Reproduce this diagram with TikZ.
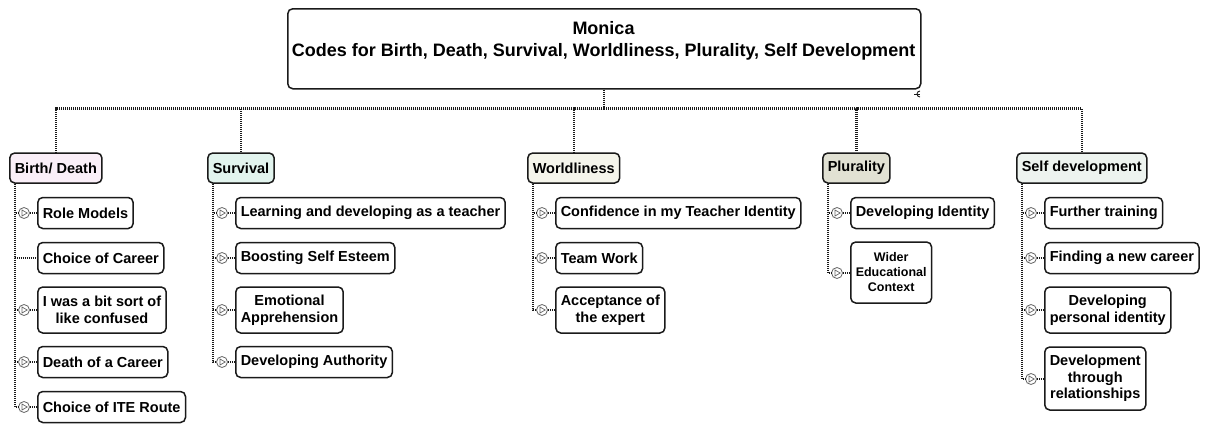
\documentclass[tikz,border=0pt]{standalone}
\usepackage{fontspec}
\setmainfont{Liberation Sans}
\definecolor{bdfill}{HTML}{FAEFF8}
\definecolor{svfill}{HTML}{E2F4EE}
\definecolor{wlfill}{HTML}{F5F5EB}
\definecolor{plfill}{HTML}{E1E1D3}
\definecolor{sdfill}{HTML}{EDF3EF}
\definecolor{ink}{HTML}{1A1A1A}
\begin{document}
\begin{tikzpicture}[x=1pt,y=-1pt,
  box/.style={draw=ink, line width=1.5pt, rounded corners=5pt, fill=white,
    inner xsep=5pt, inner ysep=0pt, align=center, text=black,
    font=\fontsize{14.5}{16.5}\selectfont\bfseries},
  leaf/.style={box, anchor=west, minimum height=31pt},
  catbox/.style={box, anchor=west, minimum height=30pt},
  conn/.style={draw=ink, line width=2.3pt, dash pattern=on 1.1pt off 0.9pt},
  icon/.style={circle, draw=black!60, line width=0.8pt, minimum size=11pt,
    inner sep=0pt, fill=white,
    path picture={\draw[black!60, line width=0.7pt]
      ([shift={(-2pt,-3pt)}]path picture bounding box.center) --
      ([shift={(3.2pt,0pt)}]path picture bounding box.center) --
      ([shift={(-2pt,3pt)}]path picture bounding box.center) -- cycle;}}
]
\fill[white] (0,0) rectangle (1207,423);
\useasboundingbox (0,0) rectangle (1207,423);

% root box with its two-line title
\node[box, anchor=north west, minimum width=633pt, minimum height=80pt] (top) at (287,8) {};
\node[align=center, font=\fontsize{18}{22}\selectfont\bfseries] (toptext) at (603.5,41)
  {Monica\\Codes for Birth, Death, Survival, Worldliness, Plurality, Self Development};
\draw[ink, line width=0.9pt] (920,91) arc[start angle=90, end angle=270, radius=3pt];
\draw[ink, line width=0.9pt] (914,94) -- (920,94);

% category boxes
\node[catbox, fill=bdfill] (bd) at (9,168) {Birth/ Death};
\node[catbox, fill=svfill] (sv) at (207,168) {Survival};
\node[catbox, fill=wlfill] (wl) at (527,168) {Worldliness};
\node[catbox, fill=plfill] (pl) at (822,168) {Plurality};
\node[catbox, fill=sdfill] (sd) at (1016,168) {Self development};

\path (top.south) ++(0,19) coordinate (hub);
\draw[conn] (top.south) -- (hub);
\foreach \c in {bd,sv,wl,pl,sd} \draw[conn] (hub) -| (\c.north);

% Birth / Death
\node[leaf] (bd1) at (37,213) {Role Models};
\node[leaf] (bd2) at (37,258) {Choice of Career};
\node[leaf, minimum height=46pt] (bd3) at (37,310) {I was a bit sort of\\like confused};
\node[leaf] (bd4) at (37,362) {Death of a Career};
\node[leaf] (bd5) at (37,407) {Choice of ITE Route};
\node[icon] (bd1i) at (24,213) {};
\node[icon] (bd3i) at (24,310) {};
\node[icon] (bd4i) at (24,362) {};
\node[icon] (bd5i) at (24,407) {};
\draw[conn] ([xshift=6pt]bd.south west) |- (bd2.west);
\foreach \k in {1,3,4,5} {
  \draw[conn] ([xshift=6pt]bd.south west) |- (bd\k i.west);
  \draw[conn] (bd\k i.east) -- (bd\k i.east -| bd\k.west);
}

% Survival
\node[leaf] (sv1) at (235,213) {Learning and developing as a teacher};
\node[leaf] (sv2) at (235,258) {Boosting Self Esteem};
\node[leaf, minimum height=46pt] (sv3) at (235,310) {Emotional\\Apprehension};
\node[leaf] (sv4) at (235,362) {Developing Authority};
\foreach \k/\y in {1/213,2/258,3/310,4/362} {
  \node[icon] (sv\k i) at (222,\y) {};
  \draw[conn] ([xshift=6pt]sv.south west) |- (sv\k i.west);
  \draw[conn] (sv\k i.east) -- (sv\k i.east -| sv\k.west);
}

% Worldliness
\node[leaf] (wl1) at (555,213) {Confidence in my Teacher Identity};
\node[leaf] (wl2) at (555,258) {Team Work};
\node[leaf, minimum height=46pt] (wl3) at (555,310) {Acceptance of\\the expert};
\foreach \k/\y in {1/213,2/258,3/310} {
  \node[icon] (wl\k i) at (542,\y) {};
  \draw[conn] ([xshift=6pt]wl.south west) |- (wl\k i.west);
  \draw[conn] (wl\k i.east) -- (wl\k i.east -| wl\k.west);
}

% Plurality
\node[leaf] (pl1) at (850,213) {Developing Identity};
\node[leaf, minimum height=61pt, font=\fontsize{12.5}{15}\selectfont\bfseries] (pl2) at (850,272.5) {Wider\\Educational\\Context};
\foreach \k/\y in {1/213,2/273} {
  \node[icon] (pl\k i) at (837,\y) {};
  \draw[conn] ([xshift=6pt]pl.south west) |- (pl\k i.west);
  \draw[conn] (pl\k i.east) -- (pl\k i.east -| pl\k.west);
}

% Self development
\node[leaf] (sd1) at (1044,213) {Further training};
\node[leaf] (sd2) at (1044,258) {Finding a new career};
\node[leaf, minimum height=46pt] (sd3) at (1044,310) {Developing\\personal identity};
\node[leaf, minimum height=63pt] (sd4) at (1044,378.5) {Development\\through\\relationships};
\foreach \k/\y in {1/213,2/258,3/310,4/379} {
  \node[icon] (sd\k i) at (1031,\y) {};
  \draw[conn] ([xshift=6pt]sd.south west) |- (sd\k i.west);
  \draw[conn] (sd\k i.east) -- (sd\k i.east -| sd\k.west);
}
\end{tikzpicture}
\end{document}
